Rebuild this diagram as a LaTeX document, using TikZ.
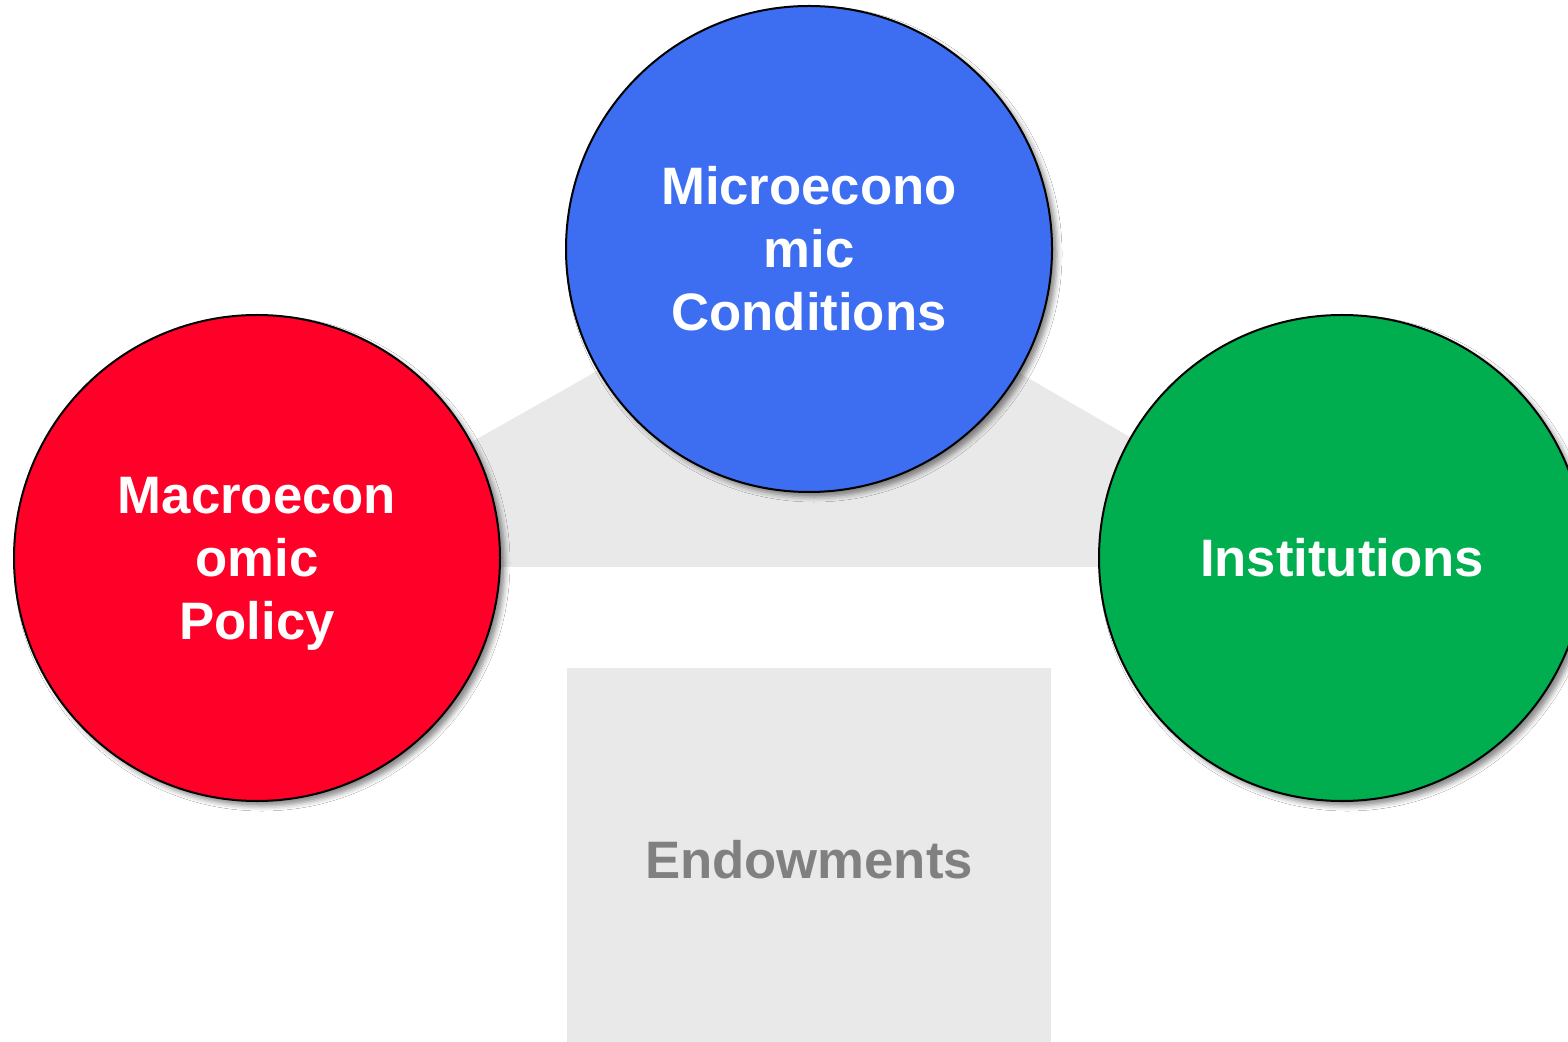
\documentclass[tikz,border=0pt]{standalone}
\usepackage{fontspec}
\setmainfont{Liberation Sans}
\usetikzlibrary{shadows.blur}
\definecolor{macrored}{RGB}{255,0,41}
\definecolor{microblue}{RGB}{61,110,242}
\definecolor{instgreen}{RGB}{0,174,80}
\definecolor{bandgray}{RGB}{233,233,233}
\definecolor{endowgray}{RGB}{128,128,128}
\tikzset{
  ball/.style={circle, draw=black, line width=1pt, minimum size=243pt, inner sep=0pt,
    text=white, align=center, font=\bfseries\fontsize{26.35}{31.5}\selectfont,
    blur shadow={shadow xshift=2.5pt, shadow yshift=-2.5pt, shadow blur radius=2.5pt, shadow opacity=45}},
  label text/.style={text=endowgray, font=\bfseries\fontsize{26.35}{31.5}\selectfont}
}
\begin{document}
\begin{tikzpicture}[x=0.5pt, y=-0.5pt]
\clip (0,0) rectangle (1568,1042);
\fill[white] (0,0) rectangle (1568,1042);
% gray band behind circles
\fill[bandgray] (251,567) -- (809,251) -- (1354,567) -- cycle;
% endowments box
\fill[bandgray] (567,668) rectangle (1051,1050);
\node[label text] (endow) at (809,860) {Endowments};
% circles
\node[ball, fill=macrored] (macro) at (257,558) {Macroecon\\omic\\\smash{Policy}};
\node[ball, fill=microblue] (micro) at (809,249) {Microecono\\mic\\Conditions};
\node[ball, fill=instgreen] (inst) at (1342,558) {Institutions};
\end{tikzpicture}
\end{document}
